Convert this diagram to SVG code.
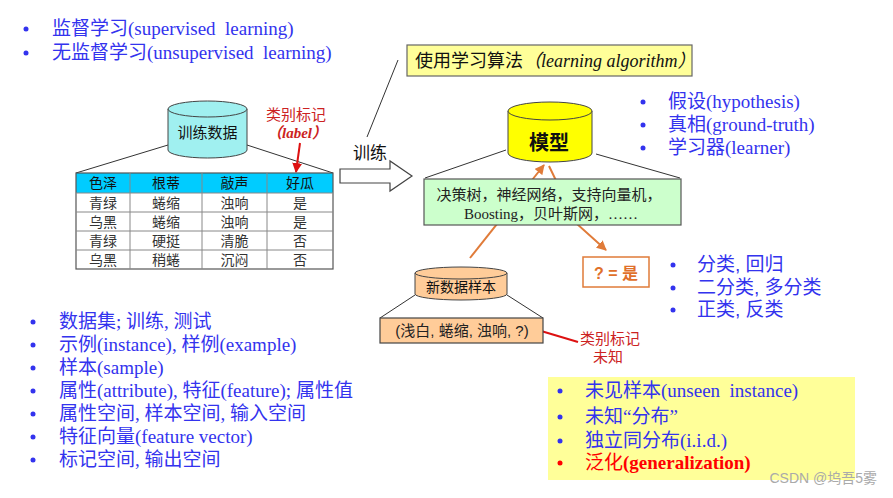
<svg xmlns="http://www.w3.org/2000/svg" width="893" height="498" viewBox="0 0 893 498">
<style>
.list{font-family:"Liberation Serif","Noto Sans CJK SC",serif;font-size:19px;fill:#3333ee}
.sans{font-family:"Liberation Sans","Noto Sans CJK SC",sans-serif}
.cell{font-family:"Liberation Sans","Noto Sans CJK SC",sans-serif;font-size:14px;fill:#333;text-anchor:middle}
.hdr{font-family:"Liberation Sans","Noto Sans CJK SC",sans-serif;font-size:14px;fill:#111;text-anchor:middle}
.red{fill:#cc2222}
.thin{stroke:#333;stroke-width:1;fill:none}
.orange{stroke:#e07b39;stroke-width:2;fill:none}
.redln{stroke:#dd1111;stroke-width:2;fill:none}
.grid{stroke:#888;stroke-width:1}
.dot{fill:#3333ee}
</style>
<defs>
<marker id="ao" viewBox="0 0 10 10" refX="9" refY="5" markerWidth="5" markerHeight="5" orient="auto"><path d="M0,0 L10,5 L0,10 z" fill="#e07b39"/></marker>
<marker id="ar" viewBox="0 0 10 10" refX="9" refY="5" markerWidth="5" markerHeight="5" orient="auto"><path d="M0,0 L10,5 L0,10 z" fill="#dd1111"/></marker>
</defs>
<rect width="893" height="498" fill="#fff"/>

<g id="connectors">
<line class="thin" x1="168" y1="145" x2="76" y2="173"/>
<line class="thin" x1="247" y1="145" x2="333" y2="173"/>
<line class="redln" x1="300" y1="143" x2="296" y2="172" marker-end="url(#ar)"/>
<line class="thin" x1="398" y1="60" x2="367" y2="137"/>
<line class="thin" x1="506" y1="150" x2="425" y2="178"/>
<line class="thin" x1="596" y1="154" x2="680" y2="178"/>
<line class="orange" x1="470" y1="258" x2="544" y2="165" marker-end="url(#ao)"/>
<path class="orange" d="M549,166 L577,224 L606,250" marker-end="url(#ao)"/>
<line class="thin" x1="415" y1="295" x2="380" y2="318"/>
<line class="thin" x1="507" y1="295" x2="543" y2="318"/>
<line class="redln" x1="578" y1="342" x2="531" y2="328" marker-end="url(#ar)"/>
<path id="train-arrow" d="M340,169 H390 V161 L412,176 L390,191 V183 H340 Z" fill="#fff" stroke="#444" stroke-width="1.2"/>
<text class="sans" x="370" y="159" font-size="17" text-anchor="middle" fill="#111">训练</text>
</g>

<g id="list-top">
<circle class="dot" cx="26" cy="29" r="2.5"/>
<circle class="dot" cx="26" cy="53" r="2.5"/>
<text class="list" x="52" y="35">监督学习(supervised&#160; learning)</text>
<text class="list" x="52" y="59">无监督学习(unsupervised&#160; learning)</text>
</g>

<g id="training-data">
<path d="M168,109 V150 A39.5,8 0 0 0 247,150 V109" fill="#a0f0f0" stroke="#444" stroke-width="1"/>
<ellipse cx="207.5" cy="109" rx="39.5" ry="8" fill="#a0f0f0" stroke="#444" stroke-width="1"/>
<text class="sans" x="207.5" y="138" font-size="15" text-anchor="middle" fill="#111">训练数据</text>
</g>

<g id="label-note">
<text class="sans red" x="296" y="120" font-size="15" text-anchor="middle">类别标记</text>
<text x="297" y="138" font-size="15" text-anchor="middle" class="red" font-family="Liberation Serif,Noto Sans CJK SC,serif" font-style="italic" font-weight="bold">（label）</text>
</g>

<g id="table">
<rect x="76" y="173" width="257" height="20" fill="#00ccff"/>
<rect x="76" y="173" width="257" height="96" fill="none" stroke="#555" stroke-width="1.2"/>
<line class="grid" x1="76" y1="193" x2="333" y2="193" stroke="#555"/>
<line class="grid" x1="76" y1="212" x2="333" y2="212"/>
<line class="grid" x1="76" y1="231" x2="333" y2="231"/>
<line class="grid" x1="76" y1="250" x2="333" y2="250"/>
<line class="grid" x1="130" y1="173" x2="130" y2="269" stroke="#555"/>
<line class="grid" x1="202" y1="173" x2="202" y2="269" stroke="#555"/>
<line class="grid" x1="267" y1="173" x2="267" y2="269" stroke="#555"/>
<text class="hdr" x="103" y="188">色泽</text><text class="hdr" x="166" y="188">根蒂</text><text class="hdr" x="234.5" y="188">敲声</text><text class="hdr" x="300" y="188">好瓜</text>
<text class="cell" x="103" y="207.5">青绿</text><text class="cell" x="166" y="207.5">蜷缩</text><text class="cell" x="234.5" y="207.5">浊响</text><text class="cell" x="300" y="207.5">是</text>
<text class="cell" x="103" y="226.5">乌黑</text><text class="cell" x="166" y="226.5">蜷缩</text><text class="cell" x="234.5" y="226.5">浊响</text><text class="cell" x="300" y="226.5">是</text>
<text class="cell" x="103" y="245.5">青绿</text><text class="cell" x="166" y="245.5">硬挺</text><text class="cell" x="234.5" y="245.5">清脆</text><text class="cell" x="300" y="245.5">否</text>
<text class="cell" x="103" y="264.5">乌黑</text><text class="cell" x="166" y="264.5">稍蜷</text><text class="cell" x="234.5" y="264.5">沉闷</text><text class="cell" x="300" y="264.5">否</text>
</g>

<g id="algorithm">
<rect x="407" y="45" width="285" height="31" fill="#ffff99" stroke="#666" stroke-width="1.2"/>
<text x="415" y="67" font-size="18" fill="#111" font-family="Liberation Sans,Noto Sans CJK SC,sans-serif">使用学习算法<tspan font-family="Liberation Serif,Noto Sans CJK SC,serif" font-style="italic">（learning algorithm）</tspan></text>
</g>

<g id="model">
<path d="M508,111 V153 A42,9 0 0 0 592,153 V111" fill="#ffff00" stroke="#444" stroke-width="1"/>
<ellipse cx="550" cy="111" rx="42" ry="9" fill="#ffff00" stroke="#444" stroke-width="1"/>
<text class="sans" x="549" y="150" font-size="20" text-anchor="middle" fill="#111" font-weight="bold">模型</text>
</g>

<g id="list-right-top">
<circle class="dot" cx="643" cy="102" r="2.5"/>
<circle class="dot" cx="643" cy="125" r="2.5"/>
<circle class="dot" cx="643" cy="148" r="2.5"/>
<text class="list" x="668" y="108">假设(hypothesis)</text>
<text class="list" x="668" y="131">真相(ground-truth)</text>
<text class="list" x="668" y="154">学习器(learner)</text>
</g>

<g id="models-box">
<rect x="424" y="179" width="257" height="46" fill="#ccffcc" stroke="#555" stroke-width="1.2"/>
<text class="sans" x="549" y="200" font-size="15" text-anchor="middle" fill="#222">决策树，神经网络，支持向量机，</text>
<text x="551" y="219" font-size="15" text-anchor="middle" fill="#222" font-family="Liberation Serif,Noto Sans CJK SC,serif">Boosting，贝叶斯网，……</text>
</g>

<g id="result">
<rect x="583" y="257" width="66" height="30" fill="#fff" stroke="#e07b39" stroke-width="1.5"/>
<text class="sans" x="616" y="279" font-size="16" text-anchor="middle" fill="#e0702a" font-weight="bold">? = 是</text>
</g>

<g id="list-right-mid">
<circle class="dot" cx="673" cy="265" r="2.5"/>
<circle class="dot" cx="673" cy="288" r="2.5"/>
<circle class="dot" cx="673" cy="310" r="2.5"/>
<text class="sans" x="697" y="271" font-size="19" fill="#3333ee">分类, 回归</text>
<text class="sans" x="697" y="294" font-size="19" fill="#3333ee">二分类, 多分类</text>
<text class="sans" x="697" y="316" font-size="19" fill="#3333ee">正类, 反类</text>
</g>

<g id="new-sample">
<path d="M415,273 V294 A46,6 0 0 0 507,294 V273" fill="#ffcc99" stroke="#444" stroke-width="1"/>
<ellipse cx="461" cy="273" rx="46" ry="6" fill="#ffcc99" stroke="#444" stroke-width="1"/>
<text class="sans" x="461" y="292" font-size="14" text-anchor="middle" fill="#111">新数据样本</text>
</g>

<g id="sample-box">
<rect x="380" y="318" width="163" height="25" fill="#ffcc99" stroke="#444" stroke-width="1.2"/>
<text class="sans" x="462" y="336" font-size="15" text-anchor="middle" fill="#222">(浅白, 蜷缩, 浊响, ?)</text>
</g>

<g id="unknown-note">
<text class="sans red" x="580" y="344" font-size="15">类别标记</text>
<text class="sans red" x="608" y="362" font-size="15" text-anchor="middle">未知</text>
</g>

<g id="list-bottom-left">
<circle class="dot" cx="33" cy="322" r="2.5"/>
<circle class="dot" cx="33" cy="345" r="2.5"/>
<circle class="dot" cx="33" cy="368" r="2.5"/>
<circle class="dot" cx="33" cy="391" r="2.5"/>
<circle class="dot" cx="33" cy="414" r="2.5"/>
<circle class="dot" cx="33" cy="437" r="2.5"/>
<circle class="dot" cx="33" cy="460" r="2.5"/>
<text class="list" x="59" y="328">数据集; 训练, 测试</text>
<text class="list" x="59" y="351">示例(instance), 样例(example)</text>
<text class="list" x="59" y="374">样本(sample)</text>
<text class="list" x="59" y="397">属性(attribute), 特征(feature); 属性值</text>
<text class="list" x="59" y="420">属性空间, 样本空间, 输入空间</text>
<text class="list" x="59" y="443">特征向量(feature vector)</text>
<text class="list" x="59" y="466">标记空间, 输出空间</text>
</g>

<g id="generalization-box">
<rect x="548" y="377" width="307" height="103" fill="#ffff99"/>
<circle class="dot" cx="560" cy="391" r="2.5"/>
<circle class="dot" cx="560" cy="417" r="2.5"/>
<circle class="dot" cx="560" cy="441" r="2.5"/>
<circle cx="560" cy="463" r="2.5" fill="#ff0000"/>
<text class="list" x="585" y="397">未见样本(unseen&#160; instance)</text>
<text class="list" x="585" y="423">未知“分布”</text>
<text class="list" x="585" y="447">独立同分布(i.i.d.)</text>
<text class="list" x="585" y="469" style="fill:#ff0000">泛化<tspan font-weight="bold">(generalization)</tspan></text>
</g>

<text class="sans" x="877" y="483" font-size="14" text-anchor="end" fill="#aaa">CSDN @坞吾5雾</text>
</svg>
